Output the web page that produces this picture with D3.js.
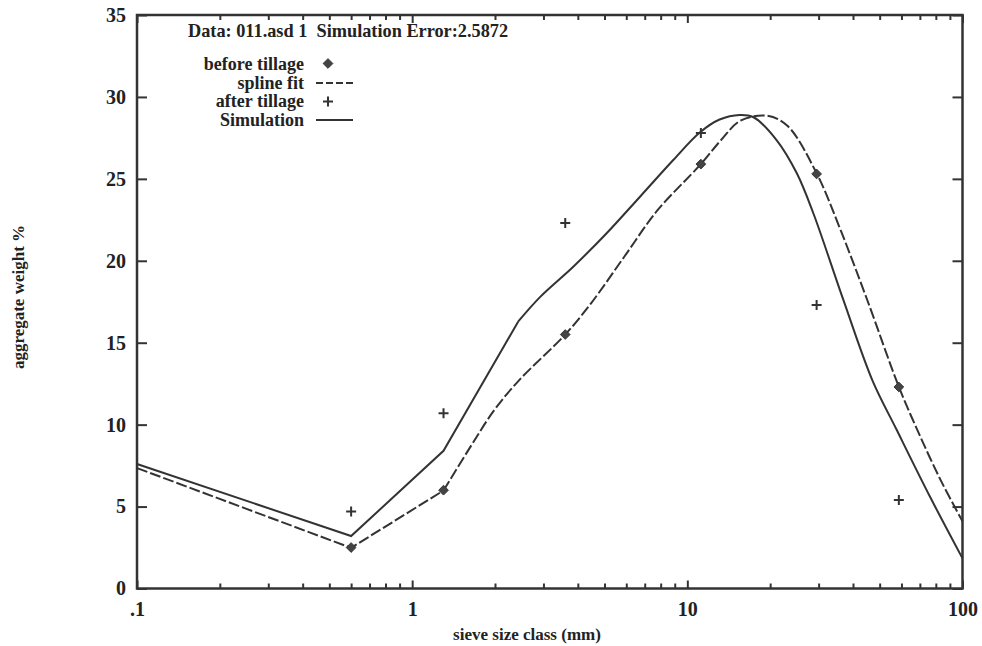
<!DOCTYPE html>
<html>
<head>
<meta charset="utf-8">
<script src="https://cdn.jsdelivr.net/npm/d3@7"></script>
<style>
body{margin:0;background:#fff;}
text{font-family:"Liberation Serif","Times New Roman",serif;fill:#222;}
</style>
</head>
<body>
<svg id="myGraph" width="982" height="646"></svg>
<script>
// measured points (sieve class mm, aggregate weight %)
var sieveSizes = [0.6, 1.3, 3.6, 11.2, 29.5, 58.7];
var beforeTillage = [2.5, 6.0, 15.5, 25.9, 25.3, 12.3];
var afterTillage = [4.7, 10.7, 22.3, 27.8, 17.3, 5.4];

// spline fit through before tillage (first 3 points are straight segments)
var splineX = [0.1, 0.6, 1.3, 1.63, 1.99, 2.45, 3.6, 4.46, 5.89, 7.78, 11.2, 13.2, 15.6, 19.5, 23.1, 29.5, 36.1, 45.1, 58.7, 68.5, 83.2, 100];
var splineY = [7.35, 2.48, 5.98, 8.66, 10.9, 12.72, 15.5, 17.39, 20.23, 23.07, 25.9, 27.33, 28.55, 28.85, 28.24, 25.34, 21.85, 17.59, 12.31, 9.68, 6.63, 4.1];

// simulation (first 4 points are straight segments)
var simX = [0.1, 0.6, 1.3, 2.43, 2.92, 3.85, 5.09, 6.73, 8.89, 11.1, 13.1, 15.5, 17.4, 21.1, 25.0, 28.7, 36.9, 47.0, 57.7, 76.2, 100];
var simY = [7.6, 3.2, 8.4, 16.3, 17.8, 19.64, 21.68, 23.91, 26.15, 27.83, 28.62, 28.9, 28.76, 27.37, 25.34, 22.9, 17.61, 12.72, 9.67, 5.6, 1.84];

var xTickValues = [0.1, 1, 10, 100];
var xTickLabels = [".1", "1", "10", "100"];
var xMinorTicks = [0.2,0.3,0.4,0.5,0.6,0.7,0.8,0.9, 2,3,4,5,6,7,8,9, 20,30,40,50,60,70,80,90];
var yTickValues = [0, 5, 10, 15, 20, 25, 30, 35];

var titleText = "Data: 011.asd 1  Simulation Error:2.5872";
var legendLabels = ["before tillage", "spline fit", "after tillage", "Simulation"];

window.addEventListener("load", function(){
var svg = d3.select("#myGraph");
var ink = "#333";

var x = d3.scaleLog().domain([0.1, 100]).range([137, 962.5]);
var y = d3.scaleLinear().domain([0, 35]).range([588.5, 15]);

// axes
var yLeft = d3.axisLeft(y).tickValues(yTickValues).tickSize(-10).tickPadding(11);
var gl = svg.append("g").attr("transform", "translate(137,0)").call(yLeft);
var yRight = d3.axisRight(y).tickValues(yTickValues).tickSize(-10).tickFormat("");
var gr = svg.append("g").attr("transform", "translate(962.5,0)").call(yRight);

var xBottom = d3.axisBottom(x).tickValues(xTickValues).tickSize(-8).tickPadding(13)
	.tickFormat(function(d, i){ return xTickLabels[i]; });
var gb = svg.append("g").attr("transform", "translate(0,588.5)").call(xBottom);
var gbm = svg.append("g").attr("transform", "translate(0,588.5)")
	.call(d3.axisBottom(x).tickValues(xMinorTicks).tickSize(-5).tickFormat(""));
var gt = svg.append("g").attr("transform", "translate(0,15)")
	.call(d3.axisTop(x).tickValues(xTickValues).tickSize(-8).tickFormat(""));
var gtm = svg.append("g").attr("transform", "translate(0,15)")
	.call(d3.axisTop(x).tickValues(xMinorTicks).tickSize(-5).tickFormat(""));

[gl, gr, gb, gbm, gt, gtm].forEach(function(g){
	g.select(".domain").remove();
	g.selectAll("line").attr("stroke", ink).attr("stroke-width", 2);
	g.selectAll("text").attr("font-size", 20).attr("font-weight", "bold")
		.attr("fill", "#222").attr("font-family", "Liberation Serif");
});

// frame
svg.append("rect")
	.attr("x", 137).attr("y", 15)
	.attr("width", 962.5 - 137).attr("height", 588.5 - 15)
	.attr("fill", "none").attr("stroke", ink).attr("stroke-width", 2.5);

// axis labels
svg.append("text")
	.attr("x", 527).attr("y", 640)
	.attr("text-anchor", "middle").attr("font-size", 17).attr("font-weight", "bold")
	.text("sieve size class (mm)");
svg.append("text")
	.attr("transform", "translate(24,297) rotate(-90)")
	.attr("text-anchor", "middle").attr("font-size", 17).attr("font-weight", "bold")
	.text("aggregate weight %");

// curves: straight pieces at the small sizes, smooth above
var lineStraight = d3.line()
	.x(function(d){ return x(d[0]); })
	.y(function(d){ return y(d[1]); });
var lineSmooth = d3.line()
	.x(function(d){ return x(d[0]); })
	.y(function(d){ return y(d[1]); })
	.curve(d3.curveCatmullRom.alpha(0.5));

var splineData = splineX.map(function(v, i){ return [v, splineY[i]]; });
var simData = simX.map(function(v, i){ return [v, simY[i]]; });

svg.append("path")
	.attr("d", lineStraight(splineData.slice(0, 3)) + lineSmooth(splineData.slice(2)))
	.attr("fill", "none").attr("stroke", ink).attr("stroke-width", 2)
	.attr("stroke-dasharray", "11,3");
svg.append("path")
	.attr("d", lineStraight(simData.slice(0, 4)) + lineSmooth(simData.slice(3)))
	.attr("fill", "none").attr("stroke", ink).attr("stroke-width", 2);

// points
var diamond = d3.symbol().type(d3.symbolDiamond2).size(60);
svg.selectAll(".before")
	.data(sieveSizes)
	.enter()
	.append("path")
	.attr("class", "before")
	.attr("d", diamond)
	.attr("transform", function(d, i){ return "translate(" + x(d) + "," + y(beforeTillage[i]) + ")"; })
	.attr("fill", "#444").attr("stroke", "#333").attr("stroke-width", 1);

svg.selectAll(".after")
	.data(sieveSizes)
	.enter()
	.append("path")
	.attr("class", "after")
	.attr("d", "M-5,0H5M0,-5V5")
	.attr("transform", function(d, i){ return "translate(" + x(d) + "," + y(afterTillage[i]) + ")"; })
	.attr("fill", "none").attr("stroke", "#333").attr("stroke-width", 2);

// title and legend
svg.append("text")
	.attr("x", 188).attr("y", 37)
	.attr("font-size", 18.3).attr("font-weight", "bold")
	.attr("xml:space", "preserve")
	.text(titleText);

var legend = svg.append("g");
legend.selectAll("text")
	.data(legendLabels)
	.enter()
	.append("text")
	.attr("x", 304)
	.attr("y", function(d, i){ return 70 + i * 18.6; })
	.attr("text-anchor", "end").attr("font-size", 18).attr("font-weight", "bold")
	.text(function(d){ return d; });

legend.append("path")
	.attr("d", diamond)
	.attr("transform", "translate(328,63.5)")
	.attr("fill", "#444").attr("stroke", "#333");
legend.append("line")
	.attr("x1", 316).attr("x2", 353).attr("y1", 83).attr("y2", 83)
	.attr("stroke", ink).attr("stroke-width", 2).attr("stroke-dasharray", "7,3");
legend.append("path")
	.attr("d", "M-5,0H5M0,-5V5")
	.attr("transform", "translate(328,101.5)")
	.attr("stroke", ink).attr("stroke-width", 2);
legend.append("line")
	.attr("x1", 316).attr("x2", 353).attr("y1", 120).attr("y2", 120)
	.attr("stroke", ink).attr("stroke-width", 2);
});
</script>
</body>
</html>
